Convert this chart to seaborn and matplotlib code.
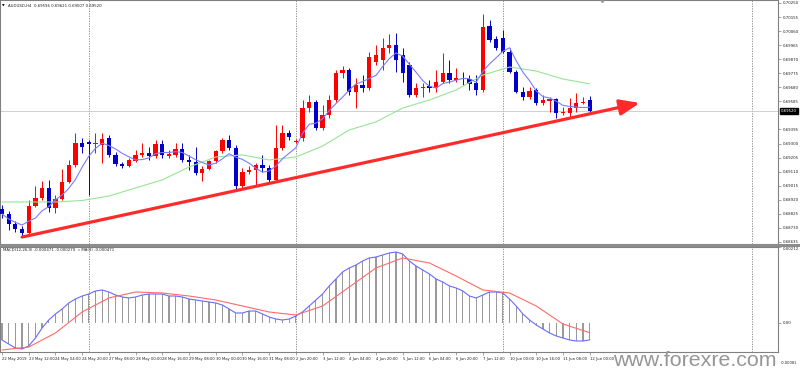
import numpy as np
import pandas as pd
import matplotlib
matplotlib.use("Agg")
import matplotlib.pyplot as plt
import matplotlib.transforms as mtransforms
from matplotlib.patches import Rectangle
import seaborn as sns

# ---------------- data (AUDUSD, H4) ----------------
x_tick_labels = ["22 May 2019", "23 May 12:00", "24 May 04:00", "24 May 20:00", "27 May 08:00",
                 "28 May 00:00", "28 May 16:00", "29 May 08:00", "30 May 00:00", "30 May 16:00",
                 "31 May 08:00", "2 Jun 20:00", "3 Jun 12:00", "4 Jun 04:00", "4 Jun 20:00",
                 "5 Jun 12:00", "6 Jun 04:00", "6 Jun 20:00", "7 Jun 12:00", "10 Jun 00:00",
                 "10 Jun 16:00", "11 Jun 08:00", "12 Jun 00:00"]

opens = [
    0.68858, 0.68824, 0.68756, 0.68722, 0.68695, 0.68878, 0.68932, 0.69000, 0.68864, 0.68925,
    0.69040, 0.69155, 0.69304, 0.69310, 0.69297, 0.69290, 0.69337, 0.69223, 0.69162, 0.69148,
    0.69182, 0.69223, 0.69236, 0.69216, 0.69297, 0.69219, 0.69223, 0.69263, 0.69189, 0.69175,
    0.69101, 0.69128, 0.69182, 0.69250, 0.69324, 0.69270, 0.69013, 0.69108, 0.69121, 0.69155,
    0.69135, 0.69054, 0.69270, 0.69371, 0.69310, 0.69337, 0.69540, 0.69581, 0.69405, 0.69493,
    0.69594, 0.69777, 0.69797, 0.69648, 0.69696, 0.69675, 0.69851, 0.69865, 0.69946, 0.69966,
    0.69899, 0.69831, 0.69628, 0.69675, 0.69689, 0.69675, 0.69716, 0.69777, 0.69730, 0.69743,
    0.69736, 0.69709, 0.69662, 0.70095, 0.70007, 0.70014, 0.69919, 0.69784, 0.69648, 0.69615,
    0.69662, 0.69574, 0.69588, 0.69601, 0.69506, 0.69506, 0.69540, 0.69574, 0.69596]

highs = [
    0.68885, 0.68844, 0.68776, 0.68743, 0.68918, 0.69013, 0.69047, 0.69054, 0.68952, 0.69128,
    0.69189, 0.69371, 0.69337, 0.69324, 0.69371, 0.69371, 0.69358, 0.69243, 0.69175, 0.69202,
    0.69256, 0.69304, 0.69277, 0.69324, 0.69324, 0.69256, 0.69304, 0.69304, 0.69223, 0.69277,
    0.69148, 0.69189, 0.69256, 0.69337, 0.69358, 0.69290, 0.69135, 0.69148, 0.69168, 0.69223,
    0.69155, 0.69425, 0.69425, 0.69392, 0.69331, 0.69594, 0.69628, 0.69594, 0.69561, 0.69628,
    0.69797, 0.69824, 0.69811, 0.69743, 0.69763, 0.69919, 0.69966, 0.70014, 0.70041, 0.70047,
    0.69946, 0.69851, 0.69709, 0.69709, 0.69730, 0.69797, 0.69912, 0.69865, 0.69811, 0.69784,
    0.69763, 0.69763, 0.70176, 0.70135, 0.70027, 0.70068, 0.69946, 0.69797, 0.69682, 0.69682,
    0.69675, 0.69628, 0.69615, 0.69608, 0.69547, 0.69608, 0.69642, 0.69615, 0.69621]

lows = [
    0.68797, 0.68716, 0.68702, 0.68668, 0.68689, 0.68871, 0.68918, 0.68837, 0.68830, 0.68918,
    0.69033, 0.69141, 0.69236, 0.68952, 0.69236, 0.69168, 0.69209, 0.69148, 0.69135, 0.69141,
    0.69175, 0.69209, 0.69189, 0.69202, 0.69202, 0.69202, 0.69209, 0.69175, 0.69121, 0.69087,
    0.69047, 0.69121, 0.69168, 0.69236, 0.69256, 0.68993, 0.69000, 0.69094, 0.69013, 0.69108,
    0.69040, 0.69040, 0.69256, 0.69324, 0.69304, 0.69317, 0.69513, 0.69392, 0.69392, 0.69473,
    0.69581, 0.69743, 0.69628, 0.69540, 0.69648, 0.69662, 0.69831, 0.69797, 0.69912, 0.69784,
    0.69716, 0.69615, 0.69615, 0.69615, 0.69648, 0.69648, 0.69709, 0.69709, 0.69716, 0.69696,
    0.69662, 0.69628, 0.69648, 0.69986, 0.69932, 0.69912, 0.69777, 0.69642, 0.69594, 0.69601,
    0.69561, 0.69561, 0.69513, 0.69473, 0.69493, 0.69473, 0.69513, 0.69567, 0.69507]

closes = [
    0.68824, 0.68756, 0.68722, 0.68695, 0.68878, 0.68932, 0.69000, 0.68864, 0.68925, 0.69040,
    0.69155, 0.69304, 0.69277, 0.69297, 0.69304, 0.69331, 0.69223, 0.69162, 0.69148, 0.69189,
    0.69223, 0.69236, 0.69216, 0.69297, 0.69223, 0.69226, 0.69263, 0.69189, 0.69175, 0.69101,
    0.69128, 0.69182, 0.69250, 0.69324, 0.69270, 0.69013, 0.69108, 0.69121, 0.69155, 0.69135,
    0.69054, 0.69270, 0.69371, 0.69344, 0.69317, 0.69540, 0.69581, 0.69405, 0.69493, 0.69594,
    0.69777, 0.69797, 0.69648, 0.69696, 0.69675, 0.69885, 0.69899, 0.69946, 0.69966, 0.69865,
    0.69777, 0.69628, 0.69675, 0.69682, 0.69675, 0.69716, 0.69777, 0.69730, 0.69743, 0.69736,
    0.69703, 0.69662, 0.70088, 0.70000, 0.69946, 0.69919, 0.69784, 0.69648, 0.69615, 0.69655,
    0.69574, 0.69594, 0.69601, 0.69506, 0.69513, 0.69540, 0.69574, 0.69581, 0.69520]

# slow moving average (green), read every 4 bars
green_ma_bars = [0, 4, 8, 12, 16, 20, 24, 28, 32, 36, 40, 44, 48, 52, 56, 60, 64, 68, 72, 76, 80, 84, 88]
green_ma = [0.68905, 0.68905, 0.68905, 0.68915, 0.68945, 0.69000, 0.69054, 0.69141, 0.69209, 0.69223,
            0.69189, 0.69209, 0.69283, 0.69392, 0.69446, 0.69540, 0.69594, 0.69662, 0.69763, 0.69817,
            0.69790, 0.69736, 0.69703]

macd_main = [
    -0.000474, -0.000586, -0.000698, -0.000725, -0.000642, -0.000419, -0.000140, 0.000084, 0.000251, 0.000391,
    0.000558, 0.000670, 0.000753, 0.000809, 0.000893, 0.000921, 0.000865, 0.000781, 0.000725, 0.000698,
    0.000725, 0.000781, 0.000809, 0.000809, 0.000809, 0.000753, 0.000753, 0.000725, 0.000670, 0.000642,
    0.000614, 0.000586, 0.000558, 0.000502, 0.000391, 0.000279, 0.000279, 0.000335, 0.000335, 0.000251,
    0.000167, 0.000112, 0.000084, 0.000112, 0.000195, 0.000307, 0.000474, 0.000642, 0.000809, 0.001032,
    0.001228, 0.001423, 0.001535, 0.001618, 0.001730, 0.001814, 0.001841, 0.001897, 0.001953, 0.001981,
    0.001925, 0.001730, 0.001590, 0.001479, 0.001367, 0.001228, 0.001144, 0.001032, 0.000977, 0.000893,
    0.000753, 0.000698, 0.000781, 0.000865, 0.000865, 0.000837, 0.000670, 0.000474, 0.000251, 0.000084,
    -0.000056, -0.000167, -0.000279, -0.000363, -0.000419, -0.000474, -0.000502, -0.000502, -0.000471]

macd_signal_bars = green_ma_bars
macd_signal = [-0.000753, -0.000670, -0.000279, 0.000307, 0.000698, 0.000865, 0.000837, 0.000753,
               0.000642, 0.000474, 0.000307, 0.000223, 0.000474, 0.001004, 0.001535, 0.001814,
               0.001674, 0.001311, 0.000921, 0.000837, 0.000474, -0.000028, -0.000270]

price_ticks = [0.70250, 0.70155, 0.70060, 0.69965, 0.69870, 0.69775, 0.69680, 0.69585,
               0.69395, 0.69300, 0.69205, 0.69110, 0.69015, 0.68920, 0.68825, 0.68730, 0.68635]
week_separators = [13, 44, 75, 112.3]
trend_start = (3, 0.68668)
trend_end = (95.5, 0.69574)

title_text = "AUDUSD,H4  0.69596 0.69621 0.69507 0.69520"
macd_text = "MACD(12,26,9) -0.000471 -0.000270  \u00bb MA(3) -0.000471"

# ---------------- styling ----------------
sns.set_theme(style="white")
plt.rcParams['font.family'] = ['DejaVu Sans']

RED = "#ff0000"
BLUE = "#0000c8"
GRAY = "#808080"

W, H = 800, 376
fig = plt.figure(figsize=(8, 3.76), dpi=100)
fig.patch.set_facecolor("white")

right_px = 778
ax = fig.add_axes([0.0, 1 - 244 / H, right_px / W, 244 / H])
axm = fig.add_axes([0.0, 1 - 352 / H, right_px / W, 105 / H])

XMIN, XMAX = -0.3, 116.2
for a in (ax, axm):
    a.set_xlim(XMIN, XMAX)
    a.set_facecolor("white")
    for s in a.spines.values():
        s.set_color(GRAY)
        s.set_linewidth(0.8)
    for xs in week_separators:
        a.axvline(xs, color=GRAY, lw=0.6, ls=(0, (1.5, 1.5)), zorder=1)

# ----- price panel -----
idx = np.arange(len(closes))
o = np.array(opens)
c = np.array(closes)
hi = np.array(highs)
lo = np.array(lows)
colors = np.where(c >= o, RED, BLUE)

ax.axhline(closes[-1], color="#c8c8c8", lw=0.6, zorder=1)
ax.vlines(idx, lo, hi, colors=colors, lw=0.7, zorder=2)
ax.bar(idx, np.maximum(np.abs(c - o), 0.00002), bottom=np.minimum(o, c), width=0.64,
       color=colors, linewidth=0, zorder=3)

df_fast = pd.DataFrame({"bar": idx, "ma": pd.Series(closes).rolling(5, min_periods=1).mean()})
df_slow = pd.DataFrame({"bar": green_ma_bars, "ma": green_ma})
sns.lineplot(data=df_slow, x="bar", y="ma", ax=ax, color="#98e498", lw=0.8, zorder=4)
sns.lineplot(data=df_fast, x="bar", y="ma", ax=ax, color="#7c7cff", lw=0.8, zorder=4)

ax.annotate("", xy=trend_end, xytext=trend_start,
            arrowprops=dict(arrowstyle="-|>,head_length=1.0,head_width=0.4",
                            color="#ff2a2a", lw=2.3, shrinkA=0, shrinkB=0), zorder=6)

ax.set_ylim(0.68621, 0.70270)
ax.set_xlabel("")
ax.set_ylabel("")
ax.yaxis.tick_right()
ax.set_yticks(price_ticks)
ax.set_yticklabels([f"{v:.5f}" for v in price_ticks])
ax.tick_params(axis="y", right=True, left=False, length=2, width=0.5, color=GRAY,
               labelsize=2.8, pad=1.5, labelcolor="#202020")
ax.tick_params(axis="x", bottom=False, labelbottom=False)

# current price box
trans = mtransforms.blended_transform_factory(ax.transAxes, ax.transData)
ax.text(1.004, closes[-1], "0.69520", transform=trans, ha="left", va="center",
        fontsize=2.8, color="white",
        bbox=dict(boxstyle="square,pad=0.3", fc="black", ec="black"), clip_on=False, zorder=7)
# chart shift marker
ax.plot([89.8], [0.70270], marker="v", ms=3, color="#909090", clip_on=False, zorder=7)

# ----- MACD panel -----
axm.bar(idx, macd_main, width=0.18, color="#9a9a9a", linewidth=0, zorder=2)
df_macd = pd.DataFrame({"bar": idx, "v": macd_main})
df_sig = pd.DataFrame({"bar": macd_signal_bars, "v": macd_signal})
sns.lineplot(data=df_macd, x="bar", y="v", ax=axm, color="#6a6aff", lw=0.8, zorder=3)
sns.lineplot(data=df_sig, x="bar", y="v", ax=axm, color="#ff6a6a", lw=0.8, zorder=3)
axm.set_ylim(-0.000809, 0.00212)
axm.set_xlabel("")
axm.set_ylabel("")
axm.yaxis.tick_right()
axm.set_yticks([0.00212, 0.0])
axm.set_yticklabels(["0.00212", "0.00"])
axm.get_yticklabels()[0].set_va("top")
axm.tick_params(axis="y", right=True, left=False, length=2, width=0.5, color=GRAY,
                labelsize=2.8, pad=1.5, labelcolor="#202020")
axm.set_xticks(idx[::4])
axm.set_xticklabels(x_tick_labels)
axm.tick_params(axis="x", bottom=True, length=2.5, width=0.5, color=GRAY,
                labelsize=2.7, pad=1.2, labelcolor="#202020")
for lab in axm.get_xticklabels():
    lab.set_ha("left")

# panel separator
fig.patches.append(Rectangle((0, 1 - 247 / H), 1, 3 / H, transform=fig.transFigure,
                             facecolor="#8c8c8c", edgecolor="none", zorder=5))

# texts
fig.text(2 / W, 1 - 6 / H, "\u25bc", fontsize=2.5, color="black", ha="left", va="center")
fig.text(8 / W, 1 - 6 / H, title_text, fontsize=2.8, color="#202020", ha="left", va="center")
fig.text(3 / W, 1 - 250 / H, macd_text, fontsize=2.8, color="#202020", ha="left", va="center")
fig.text(781 / W, 1 - 363 / H, "-0.00081", fontsize=2.6, color="#202020", ha="left", va="center")
fig.text(695 / W, 1 - 361 / H, "www.forexre.com", fontsize=15.4, family=["Liberation Sans", "DejaVu Sans"],
         color="#969696", ha="center", va="center", zorder=20)

fig.savefig("out.png", dpi=100, facecolor="white")
